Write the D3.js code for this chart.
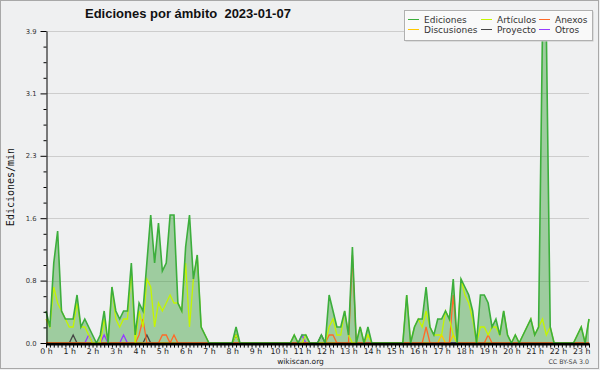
<!DOCTYPE html>
<html><head><meta charset="utf-8">
<script src="https://cdn.jsdelivr.net/npm/d3@7"></script>
<style>body{margin:0;background:#eff0f1}svg{display:block}</style>
</head><body><svg id="c" width="600" height="370"></svg>
<script>
const titleText = "Ediciones por ámbito  2023-01-07";
const yTitle = "Ediciones/min";
const seriesNames = ["Ediciones","Artículos","Anexos","Discusiones","Proyecto","Otros"];
const hourLabels = ["0 h","1 h","2 h","3 h","4 h","5 h","6 h","7 h","8 h","9 h","10 h","11 h","12 h","13 h","14 h","15 h","16 h","17 h","18 h","19 h","20 h","21 h","22 h","23 h"];
const yTickValues = [0, 0.78, 1.56, 2.34, 3.12, 3.9];
const yTickLabels = ["0.0","0.8","1.6","2.3","3.1","3.9"];

// one value per 10 minutes, 0:00 .. 23:20 (edits per minute)
const ediciones = [
0.4,0.2,1.0,1.4,0.4,0.3,0.3,0.3,0.6,0.2,0.3,0.2,
0.1,0,0.1,0.4,0,0.7,0.4,0.3,0.4,0.4,1.0,0.1,
0.5,0.4,1.0,1.6,1.0,1.5,0.9,1.0,1.6,1.6,0.5,0.4,
1.2,1.6,0.8,1.1,0.2,0.1,0,0,0,0,0,0,
0,0.2,0,0,0,0,0,0,0,0,0,0,
0,0,0,0,0.1,0,0.1,0.1,0,0,0,0.1,
0,0.6,0.4,0.2,0.2,0.4,0.1,1.2,0,0.2,0,0.2,
0,0,0,0,0,0,0,0,0,0.6,0,0.2,
0.3,0.3,0.7,0.2,0.1,0.3,0.3,0.4,0.3,0.8,0,0.8,
0.7,0.6,0.4,0,0.6,0.6,0.5,0.2,0.3,0.1,0.4,0.1,
0,0.1,0,0.1,0.2,0.3,0.1,0.2,3.9,3.9,0.2,0,
0,0,0,0,0,0.1,0.2,0,0.3];
const articulos = [
0.3,0.2,0.7,0.5,0.4,0.3,0.2,0.2,0.5,0.2,0.2,0.1,
0,0,0,0.3,0,0.7,0.3,0.2,0.3,0.3,0.9,0,
0.4,0.2,0.8,0.7,0.2,0.5,0.4,0.5,0.6,0.5,0.5,0.4,
1.0,0.2,0.8,1.1,0.2,0.1,0,0,0,0,0,0,
0,0.1,0,0,0,0,0,0,0,0,0,0,
0,0,0,0,0.1,0,0,0.1,0,0,0,0,
0,0.2,0.3,0.1,0.1,0.4,0.1,0,0,0.2,0,0.1,
0,0,0,0,0,0,0,0,0,0.6,0,0.2,
0.3,0.2,0.4,0.2,0.1,0.1,0.1,0.4,0.3,0.1,0,0.8,
0.6,0.5,0.3,0,0.2,0.2,0.1,0.2,0.2,0.1,0.4,0.1,
0,0.1,0,0.1,0.2,0.3,0.1,0.2,0.3,0.1,0.2,0,
0,0,0,0,0,0.1,0.2,0,0.3];
const anexos = [
0,0,0,0,0,0,0,0,0,0,0,0,
0,0,0,0,0,0,0,0,0,0,0,0,
0.1,0.3,0,0,0,0,0.1,0.1,0,0.1,0,0,
0,0,0,0,0,0,0,0,0,0,0,0,
0,0,0,0,0,0,0,0,0,0,0,0,
0,0,0,0,0,0,0,0,0,0,0,0,
0,0.1,0.1,0,0,0,0,1.1,0,0,0,0,
0,0,0,0,0,0,0,0,0,0,0,0,
0,0,0.2,0,0,0,0,0,0,0.6,0,0,
0,0,0,0,0,0,0.1,0,0,0,0,0,
0,0,0,0,0,0,0,0,0,0,0,0,
0,0,0,0,0,0,0,0,0];
const discusiones = [
0,0,0,0,0,0,0,0,0,0,0,0,
0,0,0,0,0,0,0,0,0,0,0,0,
0,0,0,0,0,0,0,0,0,0,0,0,
0,0,0,0,0,0,0,0,0,0,0,0,
0,0,0,0,0,0,0,0,0,0,0,0,
0,0,0,0,0,0,0,0,0,0,0,0,
0,0,0,0,0,0,0,0,0,0,0,0.1,
0,0,0,0,0,0,0,0,0,0,0,0,
0,0,0,0,0,0,0.1,0,0,0.1,0,0,
0,0,0,0,0,0,0,0,0,0,0,0,
0,0,0,0,0,0,0,0,0,0,0,0,
0,0,0,0,0,0,0,0,0];
const proyecto = [
0,0,0,0,0,0,0,0.1,0,0,0,0,
0,0,0,0,0,0,0,0,0,0,0,0,
0,0,0.1,0,0,0,0,0,0,0,0,0,
0,0,0,0,0,0,0,0,0,0,0,0,
0,0.1,0,0,0,0,0,0,0,0,0,0,
0,0,0,0,0,0,0,0,0,0,0,0.1,
0,0,0,0,0,0,0,0,0,0,0,0,
0,0,0,0,0,0,0,0,0,0,0,0,
0,0,0,0,0,0,0,0,0,0,0,0,
0,0,0,0,0,0,0,0,0,0,0,0,
0,0,0,0,0,0,0,0,0,0,0,0,
0,0,0,0,0,0,0,0,0];
const otros = [
0,0,0,0,0,0,0,0,0,0,0,0.1,
0,0,0,0.1,0,0,0,0,0.1,0,0,0,
0,0,0,0,0,0,0,0,0,0,0,0,
0,0,0,0,0,0,0,0,0,0,0,0,
0,0,0,0,0,0,0,0,0,0,0,0,
0,0,0,0,0,0,0.1,0,0,0,0,0,
0,0,0,0,0,0,0,0,0,0,0,0,
0,0,0,0,0,0,0,0,0,0,0,0,
0,0,0,0,0,0,0,0,0,0,0,0,
0,0,0,0,0,0,0,0,0,0,0,0,
0,0,0,0,0,0,0,0,0,0,0,0,
0,0,0,0,0,0,0,0,0];

const colors = {
  "Ediciones":"#3cae3c","Artículos":"#c4f500","Anexos":"#ff6a28",
  "Discusiones":"#ffc800","Proyecto":"#464646","Otros":"#963cff"
};
const data = {
  "Ediciones":ediciones,"Artículos":articulos,"Anexos":anexos,
  "Discusiones":discusiones,"Proyecto":proyecto,"Otros":otros
};

const svg = d3.select("#c");
const W = 600, H = 370;
svg.append("rect").attr("x",0.5).attr("y",0.5).attr("width",W-2).attr("height",H-2)
  .attr("fill","#eff0f1").attr("stroke","#a8a8a8");

const x = d3.scaleLinear().domain([0, ediciones.length-1]).range([46, 589]);
const y = d3.scaleLinear().domain([0, 3.9]).range([343, 31]);

// grid
svg.append("g").selectAll("line").data(yTickValues.slice(1)).join("line")
  .attr("x1",46).attr("x2",589)
  .attr("y1",d=>Math.round(y(d))+0.5).attr("y2",d=>Math.round(y(d))+0.5)
  .attr("stroke","#cdcdcd").attr("stroke-width",1);

// filled area of total
const area = d3.area().x((d,i)=>x(i)).y0(y(0)).y1(d=>y(d));
svg.append("path").datum(ediciones).attr("d",area)
  .attr("fill","rgba(60,160,60,0.45)").attr("stroke","none");

const line = d3.line().x((d,i)=>x(i)).y(d=>y(d));
["Otros","Proyecto","Discusiones","Anexos","Artículos","Ediciones"].forEach(n=>{
  svg.append("path").datum(data[n]).attr("d",line)
    .attr("fill","none").attr("stroke",colors[n])
    .attr("stroke-width", n==="Ediciones"?1.6:1.3).attr("stroke-linejoin","miter");
});

// y axis
const yMajor = d3.axisLeft(y).tickValues(yTickValues).tickSize(6).tickSizeOuter(0)
  .tickFormat((d,i)=>yTickLabels[i]);
const gy = svg.append("g").attr("transform","translate(46.5,0)").call(yMajor);
gy.selectAll("text").attr("font-family","DejaVu Sans").attr("font-size",6.8).attr("fill","#333").attr("dx",-1);
gy.select(".domain").attr("stroke","#000");
const minorVals = d3.range(0, 21).map(k => k*0.195).filter((d,i)=> i%4!==0);
svg.append("g").attr("transform","translate(46.5,0)")
  .call(d3.axisLeft(y).tickValues(minorVals).tickSize(3).tickSizeOuter(0).tickFormat(""))
  .call(g=>g.select(".domain").remove());

// x axis
const xIdx = d3.range(0, ediciones.length);
const gx = svg.append("g").attr("transform","translate(0,343.6)")
  .call(d3.axisBottom(x).tickValues(xIdx).tickSize(4).tickSizeOuter(0).tickFormat(""));
gx.select(".domain").attr("stroke","#000").attr("stroke-width",2.8);
gx.selectAll(".tick line").attr("stroke","#000");
const hourIdx = hourLabels.map((d,i)=>i*6);
const gxl = svg.append("g").attr("transform","translate(0,345)")
  .call(d3.axisBottom(x).tickValues(hourIdx).tickSize(0).tickFormat((d,i)=>hourLabels[i]));
gxl.select(".domain").remove();
gxl.selectAll("text").attr("font-family","DejaVu Sans").attr("font-size",7.8).attr("fill","#222").attr("dy","0.75em");

// titles
svg.append("text").attr("x",85).attr("y",18).text(titleText)
  .attr("font-family","Liberation Sans").attr("font-weight","bold").attr("font-size",13)
  .style("white-space","pre").attr("fill","#111");
svg.append("text").attr("transform","translate(14,187) rotate(-90)").attr("text-anchor","middle")
  .attr("font-family","DejaVu Sans Mono").attr("font-size",10).attr("fill","#111").text(yTitle);
svg.append("text").attr("x",300.5).attr("y",364).attr("text-anchor","middle")
  .attr("font-family","DejaVu Sans").attr("font-size",7.5).attr("fill","#222").text("wikiscan.org");
svg.append("text").attr("x",589).attr("y",364).attr("text-anchor","end")
  .attr("font-family","DejaVu Sans").attr("font-size",6.3).attr("fill","#444").text("CC BY-SA 3.0");

// legend
const lg = svg.append("g");
lg.append("rect").attr("x",405.5).attr("y",11.5).attr("width",188).attr("height",30).attr("fill","#c8c8c8");
lg.append("rect").attr("x",404.5).attr("y",10.5).attr("width",188).attr("height",30)
  .attr("fill","rgba(255,255,255,0.88)").attr("stroke","#b0b0b0");
const legendOrder = ["Ediciones","Discusiones","Artículos","Proyecto","Anexos","Otros"];
const colX = [408, 481, 539];
legendOrder.forEach((n,k)=>{
  const c = Math.floor(k/2), r = k%2;
  const ly = 19.5 + r*10;
  lg.append("line").attr("x1",colX[c]).attr("x2",colX[c]+11).attr("y1",ly).attr("y2",ly)
    .attr("stroke",colors[n]).attr("stroke-width",1);
  lg.append("text").attr("x",colX[c]+16).attr("y",ly+3).text(n)
    .attr("font-family","DejaVu Sans").attr("font-size",9).attr("fill","#333");
});
</script></body></html>
